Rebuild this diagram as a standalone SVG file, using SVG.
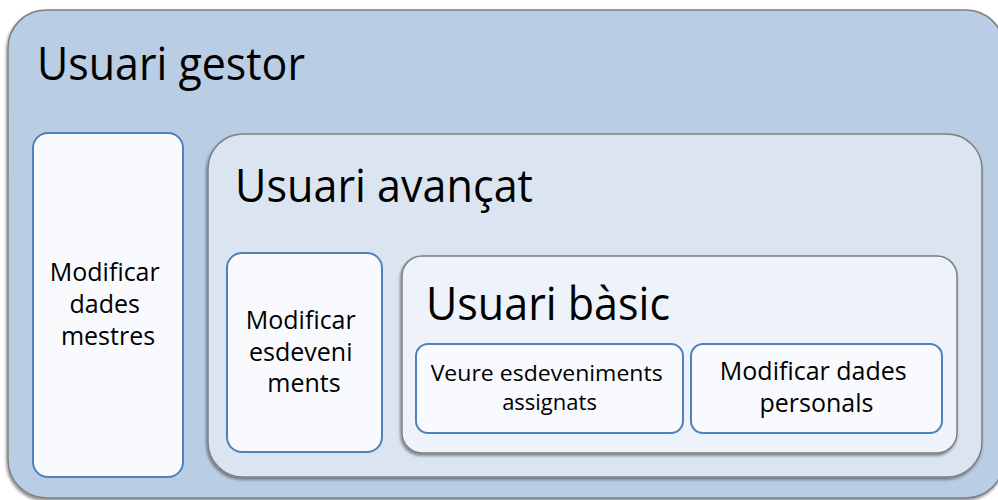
<svg xmlns="http://www.w3.org/2000/svg" width="998" height="500" viewBox="0 0 998 500">
  <defs>
    <filter id="shadow" x="-5%" y="-5%" width="110%" height="115%">
      <feGaussianBlur in="SourceAlpha" stdDeviation="1.5"/>
      <feOffset dx="-1" dy="2" result="b"/>
      <feComponentTransfer><feFuncA type="linear" slope="0.45"/></feComponentTransfer>
      <feMerge><feMergeNode/><feMergeNode in="SourceGraphic"/></feMerge>
    </filter>
  </defs>
  <style>
    .role { stroke: #7f7f7f; stroke-width: 1.5; filter: url(#shadow); }
    .perm { fill: #f8fafd; stroke: #4f81bd; stroke-width: 2; }
    .title { font-family: "Open Sans", "Noto Sans", sans-serif; font-size: 45px; fill: #000; }
    .label { font-family: "Open Sans", "Noto Sans", sans-serif; fill: #000; text-anchor: middle; }
  </style>

  <!-- Role: gestor -->
  <g id="usuari-gestor">
    <rect class="role" x="8" y="10" width="996" height="488" rx="38" fill="#b9cde5"/>
    <text class="title" x="37" y="80" textLength="268" lengthAdjust="spacingAndGlyphs">Usuari gestor</text>
  </g>

  <g id="modificar-dades-mestres">
    <rect class="perm" x="33" y="133" width="150" height="344" rx="15"/>
    <text class="label" font-size="25">
      <tspan x="108" y="281">Modificar</tspan>
      <tspan x="108" y="313">dades</tspan>
      <tspan x="108" y="345">mestres</tspan>
    </text>
  </g>

  <!-- Role: avançat -->
  <g id="usuari-avancat">
    <rect class="role" x="208" y="134" width="774" height="343" rx="35" fill="#dbe5f1"/>
    <text class="title" x="235" y="202" textLength="298" lengthAdjust="spacingAndGlyphs">Usuari avançat</text>
  </g>

  <g id="modificar-esdeveniments">
    <rect class="perm" x="227" y="253" width="155" height="199" rx="15"/>
    <text class="label" font-size="25">
      <tspan x="304" y="329">Modificar</tspan>
      <tspan x="304" y="361">esdeveni</tspan>
      <tspan x="304" y="392">ments</tspan>
    </text>
  </g>

  <!-- Role: bàsic -->
  <g id="usuari-basic">
    <rect class="role" x="402" y="256" width="555" height="197" rx="20" fill="#eef2fa"/>
    <text class="title" x="426" y="320" textLength="244" lengthAdjust="spacingAndGlyphs">Usuari bàsic</text>
  </g>

  <g id="veure-esdeveniments-assignats">
    <rect class="perm" x="416" y="344" width="267" height="89" rx="12" fill="#fdfeff"/>
    <text class="label" font-size="22">
      <tspan x="549.5" y="381" textLength="232" lengthAdjust="spacingAndGlyphs">Veure esdeveniments</tspan>
      <tspan x="549.5" y="410">assignats</tspan>
    </text>
  </g>

  <g id="modificar-dades-personals">
    <rect class="perm" x="691" y="344" width="251" height="89" rx="12" fill="#fdfeff"/>
    <text class="label" font-size="25">
      <tspan x="816.5" y="380">Modificar dades</tspan>
      <tspan x="816.5" y="412">personals</tspan>
    </text>
  </g>

  <!-- No connectors in this nested-role layout -->
  <g id="connectors"/>
</svg>
